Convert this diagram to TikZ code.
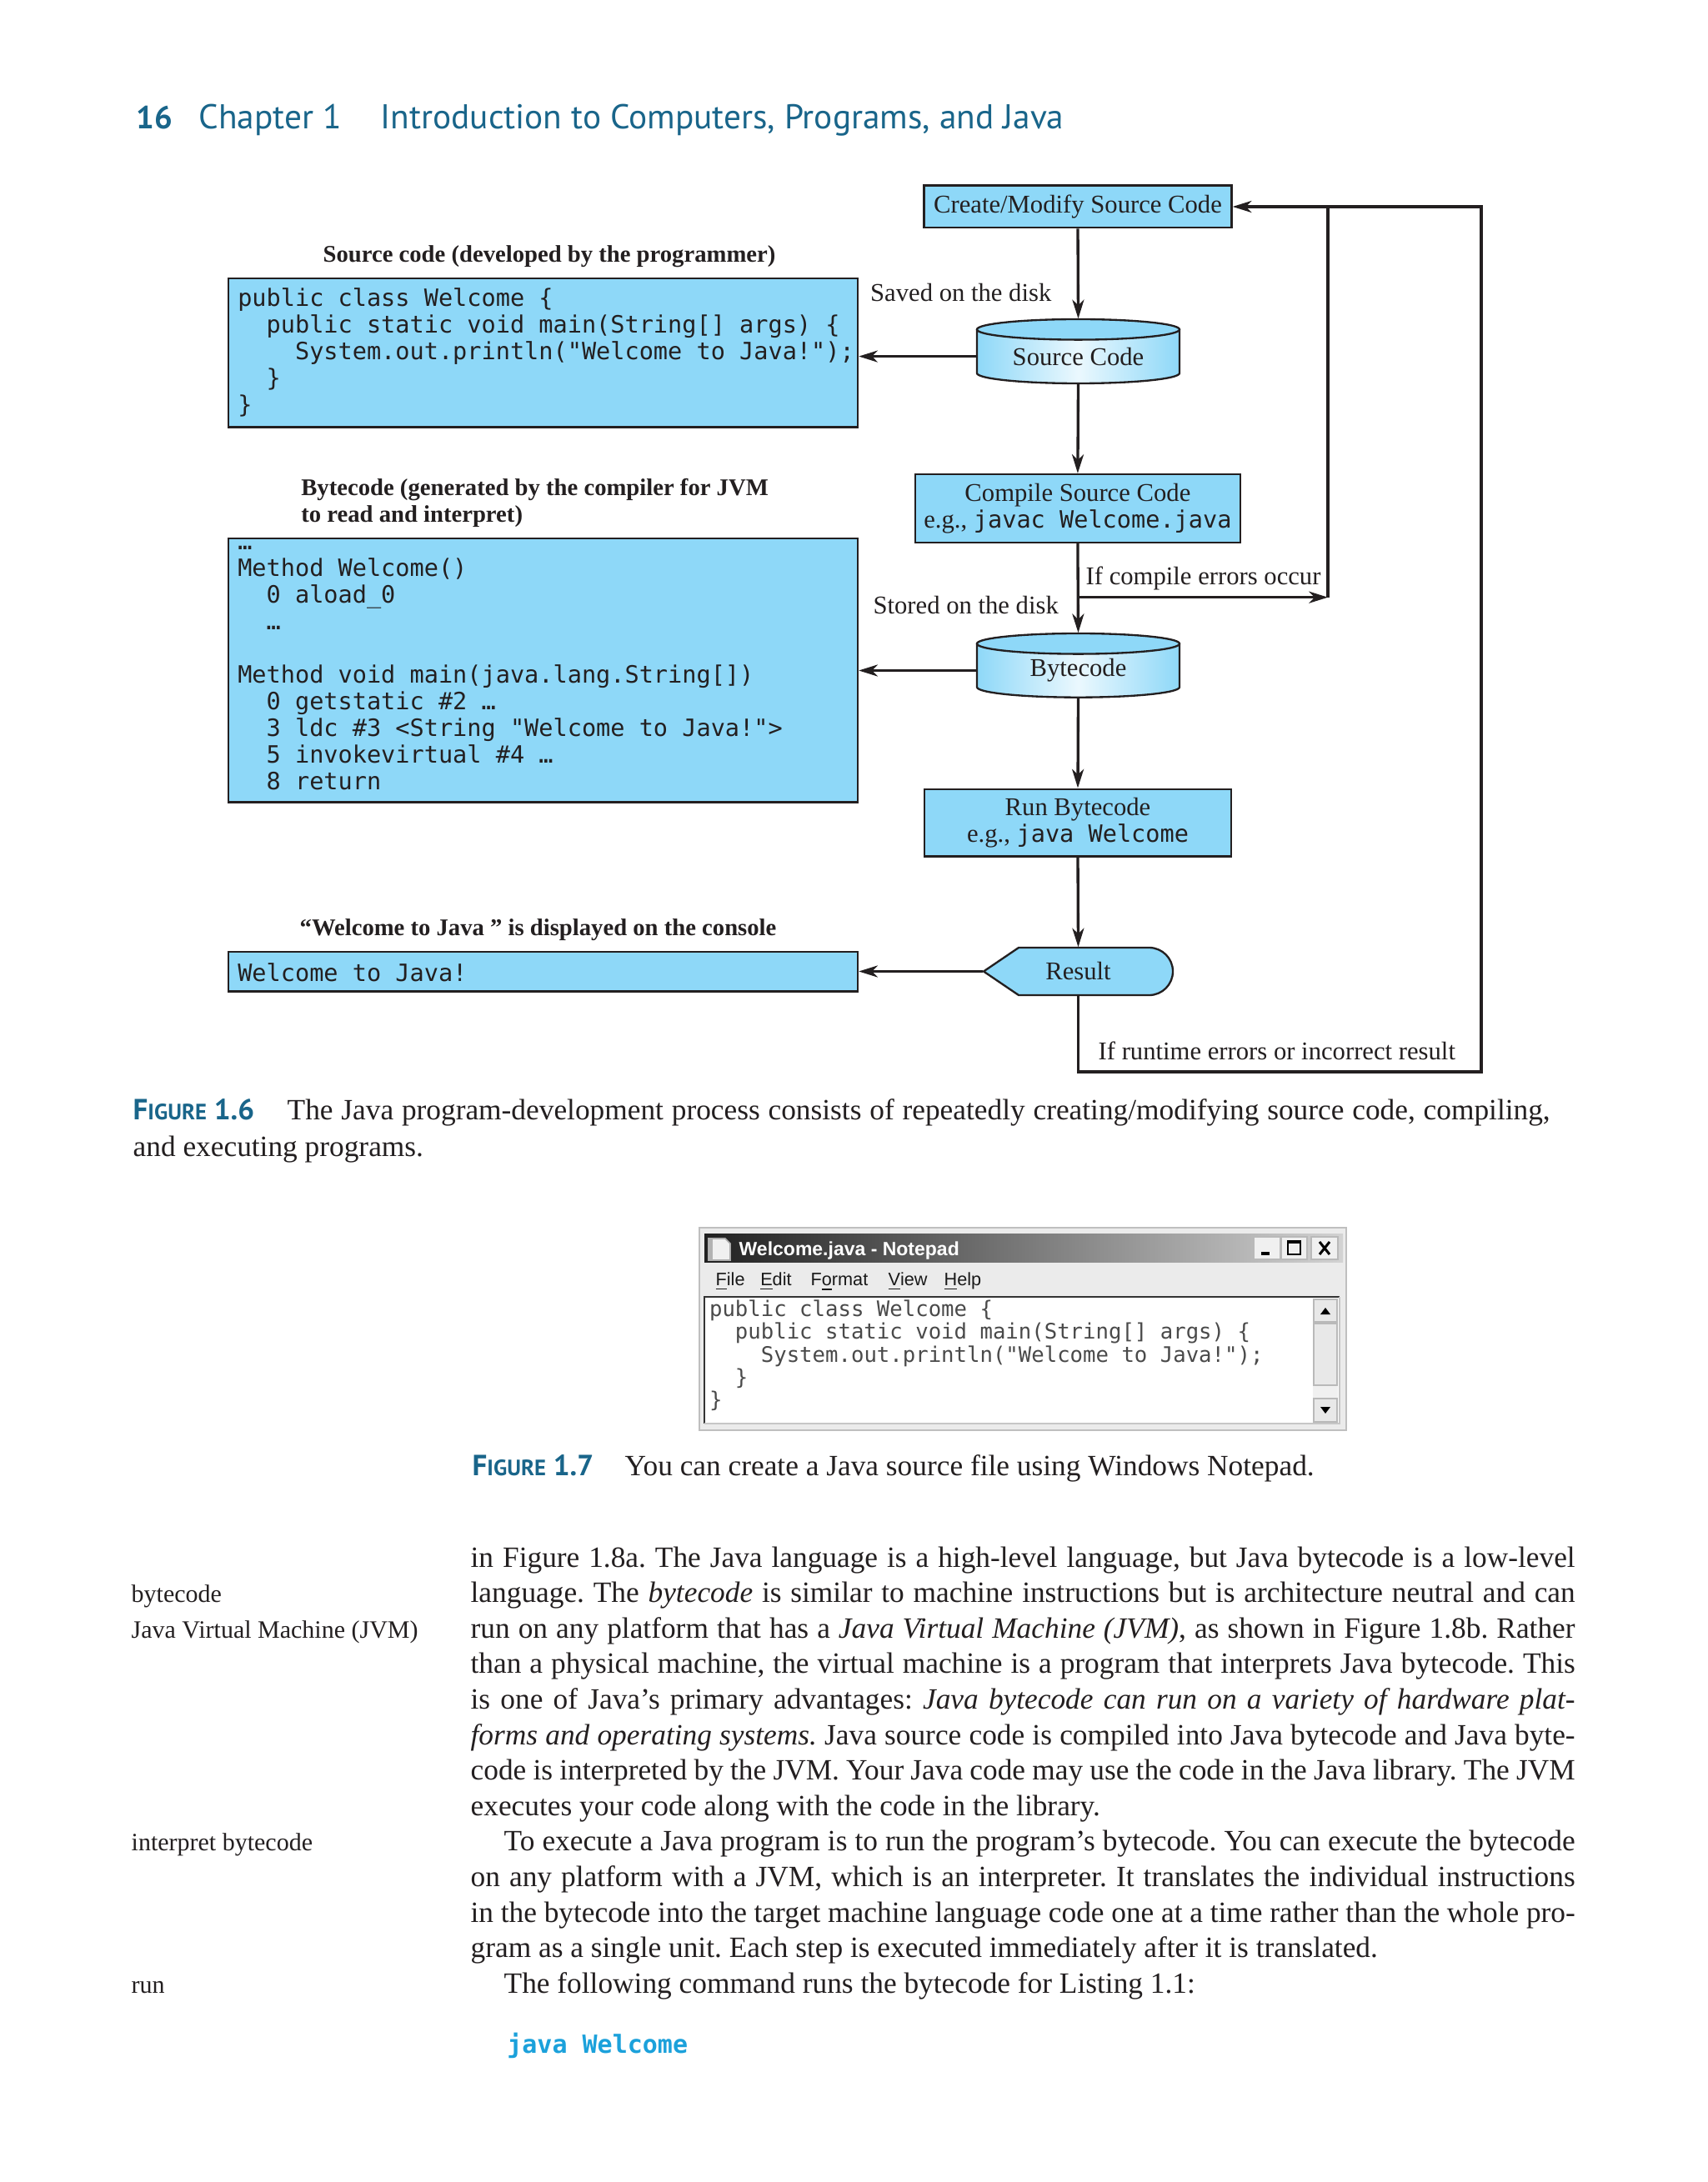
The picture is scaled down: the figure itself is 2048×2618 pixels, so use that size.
\documentclass[tikz,border=0pt]{standalone}
\usepackage{fontspec}
\setmainfont{Liberation Serif}
\newfontfamily\codefont{DejaVu Sans Mono}
\newfontfamily\hdfont{PT Sans}
\newfontfamily\uifont{Liberation Sans}
\usetikzlibrary{arrows.meta,calc}
\definecolor{boxblue}{HTML}{8ED8F8}
\definecolor{ink}{HTML}{231F20}
\definecolor{hdteal}{HTML}{19658A}
\definecolor{cmdcyan}{HTML}{1BA1DB}
\definecolor{npgray}{HTML}{4A4A4A}
\newcommand\cd[1]{{\codefont\fontsize{8.57}{9.6}\selectfont #1}}
\newcommand\jl[1]{\makebox[397.5pt][s]{#1}}
\newcommand\figlab[1]{F{\fontsize{8}{9}\selectfont IGURE}~#1}
\newcommand\cylshape[3]{%
  \shade[left color=boxblue, right color=boxblue, middle color=white!82!boxblue]
    ({#1-121.5},{#2+12.3}) -- ({#1-121.5},{#3-12.3})
    arc[start angle=180,end angle=0,x radius=121.5,y radius=12.3]
    -- ({#1+121.5},{#2+12.3}) -- cycle;
  \draw[ink, line width=0.7pt] ({#1-121.5},{#2+12.3}) -- ({#1-121.5},{#3-12.3})
    arc[start angle=180,end angle=0,x radius=121.5,y radius=12.3]
    -- ({#1+121.5},{#2+12.3});
  \filldraw[fill=boxblue, draw=ink, line width=0.7pt] (#1,{#2+12.3}) ellipse[x radius=121.5, y radius=12.3];
}
\tikzset{
  box/.style={draw=ink, line width=0.7pt, fill=boxblue, inner sep=0pt, text=ink,
    font=\fontsize{9.2}{9.6}\selectfont},
  cylnode/.style={inner sep=0pt, minimum width=72.9pt, minimum height=19.4pt, text=ink,
    font=\fontsize{9.2}{9.6}\selectfont},
  conn/.style={draw=ink, line width=1pt, -{Stealth[length=6.8pt,width=4.2pt,inset=2pt]}},
  plainline/.style={draw=ink, line width=1pt},
  lbl/.style={anchor=base west, inner sep=0pt, text=ink, font=\fontsize{9.2}{11}\selectfont},
  blbl/.style={anchor=base west, inner sep=0pt, text=ink, font=\fontsize{8.6}{9.5}\selectfont\bfseries},
  code/.style={anchor=base west, inner sep=0pt, text=ink, font=\codefont\fontsize{8.57}{9.6}\selectfont},
  npcode/.style={anchor=base west, inner sep=0pt, text=npgray, font=\codefont\fontsize{7.7}{7.9}\selectfont},
  menu/.style={anchor=base west, inner sep=0pt, text=gray!20!black, font=\uifont\fontsize{6.5}{8}\selectfont},
  hd/.style={anchor=base west, inner sep=0pt, text=hdteal, font=\hdfont\fontsize{12.4}{14}\selectfont},
  capfig/.style={anchor=base west, inner sep=0pt, text=hdteal, font=\hdfont\bfseries\fontsize{10.5}{12}\selectfont},
  captext/.style={anchor=base west, inner sep=0pt, text=ink, font=\fontsize{10.6}{12.78}\selectfont\frenchspacing},
  body/.style={anchor=base west, inner sep=0pt, text=ink, font=\fontsize{10.6}{12.78}\selectfont\frenchspacing},
  margin/.style={anchor=base west, inner sep=0pt, text=ink, font=\fontsize{9}{11}\selectfont},
}
\begin{document}
\begin{tikzpicture}[x=0.3pt,y=-0.3pt]
\useasboundingbox (0,0) rectangle (2048,2618);
\fill[white] (0,0) rectangle (2048,2618);

% ---------- running head ----------
\node[hd, font=\hdfont\bfseries\fontsize{11.5}{13}\selectfont] (pgno) at (163,155) {16};
\node[hd] (chap) at (238,155) {Chapter 1};
\node[hd] (title) at (456,155) {Introduction to Computers, Programs, and Java};

% ---------- Figure 1.6 shapes ----------
\cylshape{1293.5}{383}{460}
\cylshape{1293.5}{760}{836.7}
\filldraw[fill=boxblue, draw=ink, line width=0.7pt] (1180,1165.5) -- (1222,1137) -- (1378.5,1137)
  arc[start angle=-90,end angle=90,radius=28.5] -- (1222,1194) -- cycle;

% ---------- nodes ----------
\node[box, minimum width=110.7pt, minimum height=15.2pt] (create) at (1293,248) {Create/Modify Source Code};
\node[box, minimum width=226.5pt, minimum height=53.5pt] (srcbox) at (651.5,423.5) {};
\node[cylnode] (sc) at (1293.5,427.6) {Source Code};
\node[box, minimum width=116.9pt, minimum height=24.5pt, align=center] (compile) at (1292.9,609.9)
  {Compile Source Code\\e.g., \cd{javac Welcome.java}};
\node[box, minimum width=226.5pt, minimum height=95pt] (bcbox) at (651.5,804.3) {};
\node[cylnode] (bc) at (1293.5,804.5) {Bytecode};
\node[box, minimum width=110.4pt, minimum height=24.2pt, align=center] (run) at (1293,987)
  {Run Bytecode\\e.g., \cd{java Welcome}};
\node[cylnode, minimum width=68.1pt, minimum height=17.1pt] (res) at (1293.5,1165.5) {Result};
\node[box, minimum width=226.5pt, minimum height=14.2pt] (con) at (651.5,1165.7) {};

% code texts
\node[code] (srct) at (284.6,368) {\begin{tabular}[t]{@{}l@{}}
public class Welcome \{\\
\ \ public static void main(String[] args) \{\\
\ \ \ \ System.out.println("Welcome to Java!");\\
\ \ \}\\
\}
\end{tabular}};
\node[code] (bct) at (284.6,660) {\begin{tabular}[t]{@{}l@{}}
…\\
Method Welcome()\\
\ \ 0 aload\_0\\
\ \ …\\
\\
Method void main(java.lang.String[])\\
\ \ 0 getstatic \#2 …\\
\ \ 3 ldc \#3 <String "Welcome to Java!">\\
\ \ 5 invokevirtual \#4 …\\
\ \ 8 return
\end{tabular}};
\node[code] (cont) at (284.6,1177) {Welcome to Java!};

% labels
\node[blbl, anchor=base] (srclbl) at (659,315) {Source code (developed by the programmer)};
\node[blbl] (bclbl) at (360.7,595) {\begin{tabular}[t]{@{}l@{}}Bytecode (generated by the compiler for JVM\\to read and interpret)\end{tabular}};
\node[blbl] (conlbl) at (359,1122.7) {“Welcome to Java ” is displayed on the console};
\node[lbl, anchor=base east] (saved) at (1262,361.7) {Saved on the disk};
\node[lbl, anchor=base east] (stored) at (1270.5,736.7) {Stored on the disk};
\node[lbl] (cerrlbl) at (1302,701.7) {If compile errors occur};
\node[lbl] (rerrlbl) at (1317,1271.7) {If runtime errors or incorrect result};

% ---------- connectors ----------
\coordinate (err) at (1593,716.7);
\coordinate (outtop) at (1777,248);
\coordinate (outbot) at (1777,1286);
\draw[conn] (create.south) -- ($(sc.north)+(0,-12.3)$);
\draw[conn] (sc.west) -- (sc.west -| srcbox.east);
\draw[conn] (sc.south) -- (compile.north);
\draw[conn] (compile.south) -- ($(bc.north)+(0,-12.3)$);
\draw[conn] (compile.south |- err) -- (err);
\draw[plainline] (err) -- (err |- outtop);
\draw[conn] (bc.west) -- (bc.west -| bcbox.east);
\draw[conn] (bc.south) -- (run.north);
\draw[conn] (run.south) -- (res.north);
\draw[conn] (res.west) -- (res.west -| con.east);
\draw[conn] (res.south) -- (res.south |- outbot) -- (outbot) -- (outtop) -- (outtop -| create.east);

% ---------- caption 1.6 ----------
\node[capfig] (f16) at (159,1343) {\figlab{1.6}};
\node[captext] (c16a) at (344,1343) {\makebox[454.5pt][s]{The Java program-development process consists of repeatedly creating/modifying source code, compiling,}};
\node[captext] (c16b) at (159,1387) {and executing programs.};

% ---------- Notepad screenshot ----------
\filldraw[fill=gray!16, draw=gray!50, line width=0.6pt] (839,1473) rectangle (1615,1716);
\shade[left color=gray!25!black, right color=gray!35] (845,1480) rectangle (1611,1514);
\filldraw[fill=gray!12, draw=gray!65, line width=0.5pt] (850,1486) -- (870,1486) -- (876,1492) -- (876,1512) -- (850,1512) -- cycle;
\fill[gray!60] (850,1486) rectangle (855,1512);
\node[anchor=base west, inner sep=0pt, text=white, font=\uifont\bfseries\fontsize{6.9}{8}\selectfont] (nptitle) at (886,1506) {Welcome.java - Notepad};
\filldraw[fill=gray!12, draw=gray!55, line width=0.5pt] (1504,1484) rectangle (1536,1511);
\draw[line width=1.1pt] (1513,1504) -- (1523,1504);
\filldraw[fill=gray!12, draw=gray!55, line width=0.5pt] (1537,1484) rectangle (1568,1511);
\draw[line width=0.5pt] (1545,1489) rectangle (1560,1505);
\draw[line width=1.1pt] (1545,1490) -- (1560,1490);
\filldraw[fill=gray!12, draw=gray!55, line width=0.5pt] (1573,1484) rectangle (1605,1511);
\draw[line width=0.9pt] (1583,1490) -- (1595,1505) (1583,1505) -- (1595,1490);
\node[menu] (mfile) at (858,1542) {\underline{F}ile};
\node[menu] (medit) at (911.6,1542) {\underline{E}dit};
\node[menu] (mformat) at (972,1542) {F\underline{o}rmat};
\node[menu] (mview) at (1065,1542) {\underline{V}iew};
\node[menu] (mhelp) at (1132,1542) {\underline{H}elp};
\fill[white] (845,1556) rectangle (1607,1708);
\draw[gray!40!black, line width=0.8pt] (845,1708) -- (845,1556) -- (1607,1556);
\draw[gray!45, line width=0.8pt] (1607,1556) -- (1607,1708) -- (845,1708);
\fill[gray!12] (1575,1558) rectangle (1605,1707);
\filldraw[fill=gray!18, draw=gray!55, line width=0.5pt] (1576,1559) rectangle (1604,1586);
\fill[black] (1584,1577) -- (1596,1577) -- (1590,1569) -- cycle;
\filldraw[fill=gray!18, draw=gray!55, line width=0.5pt] (1576,1588) rectangle (1604,1662);
\filldraw[fill=gray!18, draw=gray!55, line width=0.5pt] (1576,1678) rectangle (1604,1706);
\fill[black] (1584,1688) -- (1596,1688) -- (1590,1696) -- cycle;
\node[npcode] (npt) at (850.4,1579) {\begin{tabular}[t]{@{}l@{}}
public class Welcome \{\\
\ \ public static void main(String[] args) \{\\
\ \ \ \ System.out.println("Welcome to Java!");\\
\ \ \}\\
\}
\end{tabular}};

% ---------- caption 1.7 ----------
\node[capfig] (f17) at (566,1770) {\figlab{1.7}};
\node[captext] (c17) at (749,1770) {You can create a Java source file using Windows Notepad.};

% ---------- body text ----------
\node[body] (bodytext) at (564,1880) {\begin{tabular}[t]{@{}l@{}}
\jl{in Figure 1.8a. The Java language is a high-level language, but Java bytecode is a low-level}\\
\jl{language. The \textit{bytecode} is similar to machine instructions but is architecture neutral and can}\\
\jl{run on any platform that has a \textit{Java Virtual Machine (JVM)}, as shown in Figure 1.8b. Rather}\\
\jl{than a physical machine, the virtual machine is a program that interprets Java bytecode. This}\\
\jl{is one of Java’s primary advantages: \textit{Java bytecode can run on a variety of hardware plat-}}\\
\jl{\textit{forms and operating systems.} Java source code is compiled into Java bytecode and Java byte-}\\
\jl{code is interpreted by the JVM. Your Java code may use the code in the Java library. The JVM}\\
executes your code along with the code in the library.\\
\hspace*{12pt}\makebox[385.5pt][s]{To execute a Java program is to run the program’s bytecode. You can execute the bytecode}\\
\jl{on any platform with a JVM, which is an interpreter. It translates the individual instructions}\\
\jl{in the bytecode into the target machine language code one at a time rather than the whole pro-}\\
gram as a single unit. Each step is executed immediately after it is translated.\\
\hspace*{12pt}The following command runs the bytecode for Listing 1.1:
\end{tabular}};
\node[margin] (m1) at (157,1922.6) {bytecode};
\node[margin] (m2) at (157,1965.2) {Java Virtual Machine (JVM)};
\node[margin] (m3) at (157,2220.8) {interpret bytecode};
\node[margin] (m4) at (157,2391.2) {run};
\node[anchor=base west, inner sep=0pt, text=cmdcyan, font=\codefont\bfseries\fontsize{9}{11}\selectfont] (cmd) at (607.7,2463) {java Welcome};
\end{tikzpicture}
\end{document}
